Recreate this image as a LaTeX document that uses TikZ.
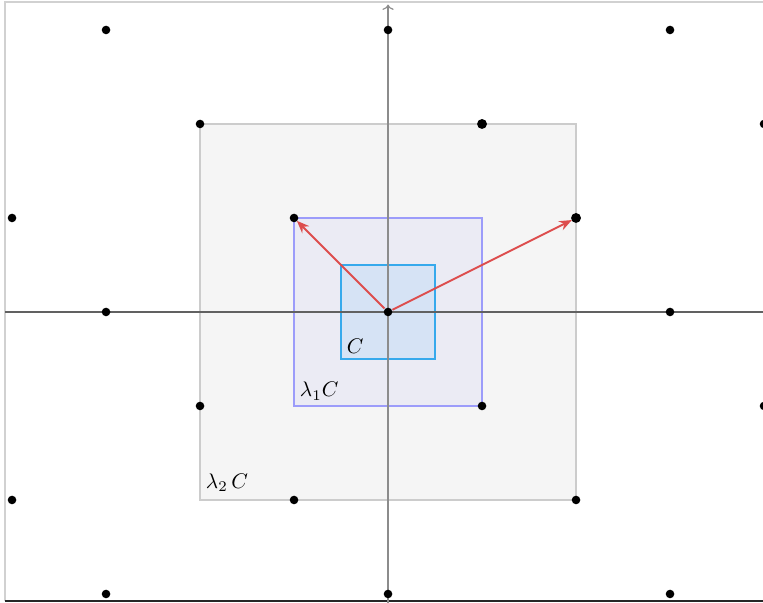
\documentclass[tikz,border=0pt]{standalone}
\usepackage{amsmath}
\usepackage{tikz}
\usetikzlibrary{arrows.meta}
\definecolor{grayfill}{HTML}{F5F5F5}
\definecolor{graystroke}{HTML}{CCCCCC}
\definecolor{lamfill}{HTML}{EBEBF4}
\definecolor{lamstroke}{HTML}{9C9CFA}
\definecolor{cfill}{HTML}{D6E3F5}
\definecolor{cstroke}{HTML}{36A9EC}
\definecolor{vecred}{HTML}{DD4D4D}

\begin{document}
\begin{tikzpicture}[
  lattice/.style={circle, fill=black, inner sep=0pt},
  axis/.style={line width=0.35pt},
  body/.style={line width=0.6pt},
  vec/.style={-{Stealth[length=3.8pt,width=3pt]}, line width=0.6pt, draw=vecred, shorten >=-0.3pt},
  tag/.style={anchor=south west, inner sep=2.6pt, scale=0.64, transform shape}
]
  \useasboundingbox (-4.128,-3.096) rectangle (3.989,3.319);
  % frame
  \draw[black!18, line width=0.4pt] (3.989,3.298) -- (-4.074,3.298) -- (-4.074,-3.074);
  \draw[black!85, line width=0.5pt] (-4.074,-3.074) -- (3.989,-3.074);

  % C and its scaled copies
  \draw[body, draw=graystroke, fill=grayfill] (-2,-2) rectangle (2,2);
  \draw[body, draw=lamstroke, fill=lamfill] (-1,-1) rectangle (1,1);
  \draw[body, draw=cstroke, fill=cfill] (-0.5,-0.5) rectangle (0.5,0.5);
  \node[tag] (lamtwo) at (-2,-1.97) {$\lambda_2\,C$};
  \node[tag] (lamone) at (-1,-1) {$\lambda_1C$};
  \node[tag] (body) at (-0.5,-0.5) {$C$};

  % axes
  \coordinate (xl) at (-4.074,0);
  \coordinate (xr) at (3.989,0);
  \coordinate (yb) at (0,-3.096);
  \coordinate (yt) at (0,3.27);
  \draw[axis, black!62] (xl) -- (xr);
  \draw[axis, black!45, -{To[length=1.6pt,width=3.4pt]}] (yb) -- (yt);

  % lattice spanned by (3,0) and (2,1)
  \foreach \a in {-4,...,4}{
    \foreach \b in {-3,...,3}{
      \pgfmathtruncatemacro{\px}{3*\a+2*\b}
      \pgfmathtruncatemacro{\big}{(\px==1 && \b==2) || (\px==2 && \b==1)}
      \ifnum\big=1 \def\dotsize{3pt}\else\def\dotsize{2.6pt}\fi
      \ifnum\px<-4 \else\ifnum\px>4 \else
        \node[lattice, minimum size=\dotsize] (p\px y\b) at (\px,\b) {};
      \fi\fi
    }
  }

  % short vectors
  \draw[vec] (p0y0) -- (p-1y1);
  \draw[vec] (p0y0) -- (p2y1);
\end{tikzpicture}
\end{document}
